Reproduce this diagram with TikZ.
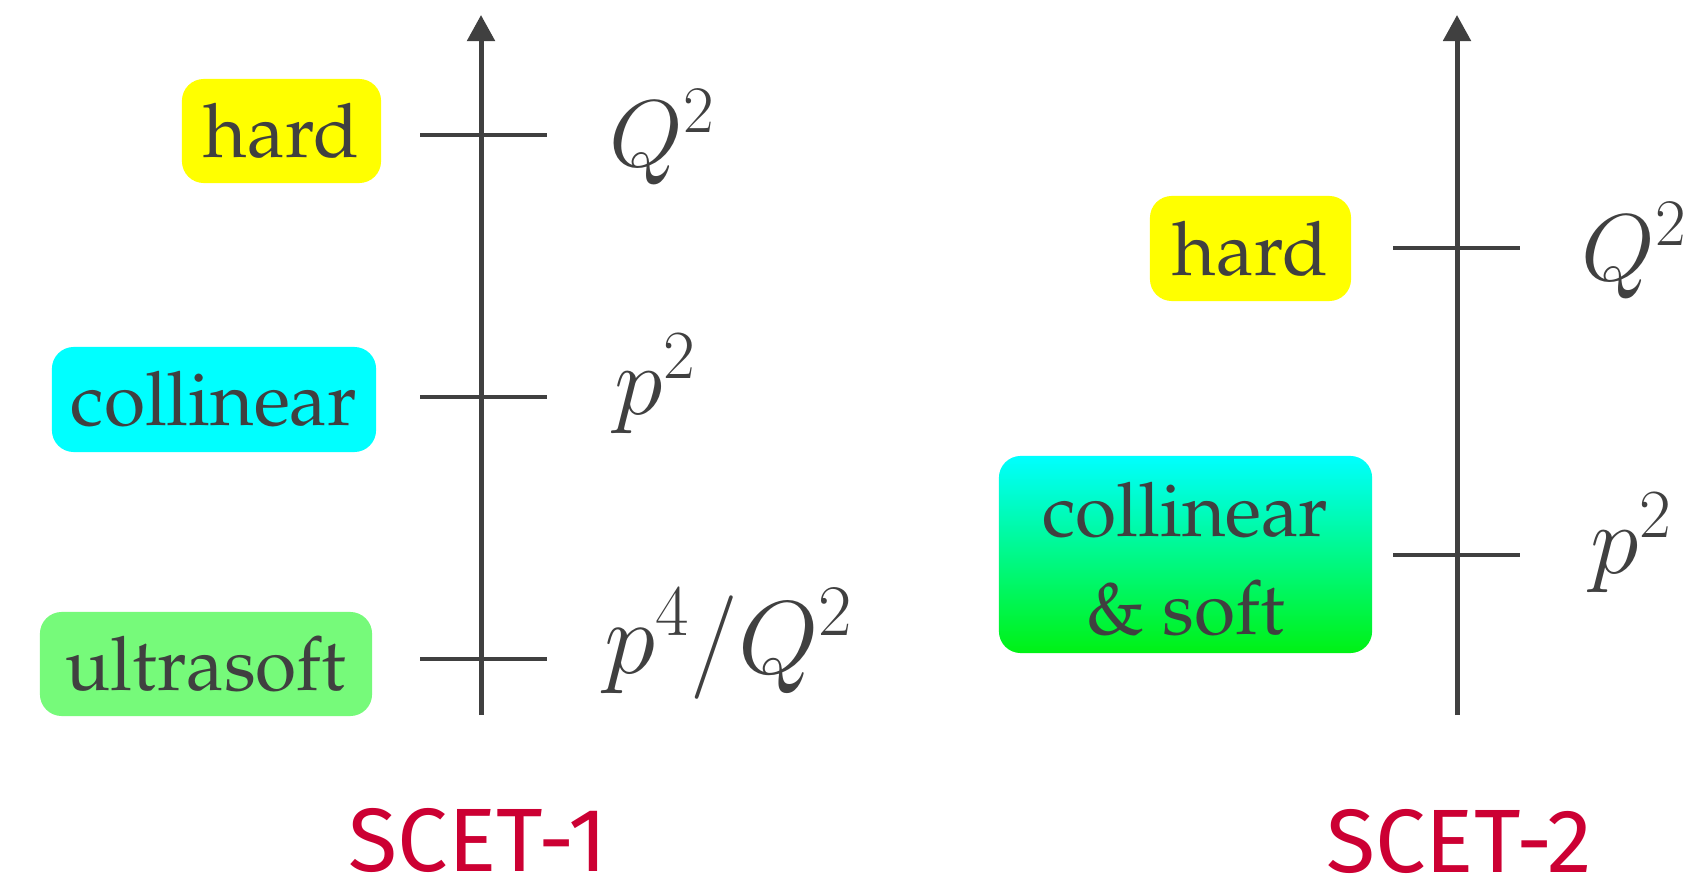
\RequirePackage{fix-cm}
\documentclass[tikz,border=0pt]{standalone}
\usepackage[T1]{fontenc}
\usepackage{fontspec}
\usepackage{tikz}
\usetikzlibrary{arrows.meta,positioning}
\usepackage{xcolor}
\definecolor{ink}{RGB}{64,64,64}
\definecolor{scetred}{RGB}{204,0,51}
\definecolor{hardyellow}{RGB}{255,255,0}
\definecolor{collcyan}{RGB}{0,255,255}
\definecolor{usoftgreen}{RGB}{118,250,122}
\definecolor{softgreen}{RGB}{0,242,20}
\newfontfamily\scetfont{Fira Sans}
\newcommand\palfont{\fontencoding{T1}\fontfamily{ppl}\selectfont}

\begin{document}
\begin{tikzpicture}[x=0.01cm,y=-0.01cm,
regime/.style={rounded corners=6.2pt,inner sep=0pt,text=ink,align=center,
font=\palfont\fontsize{21.3}{27.9}\selectfont},
scalelbl/.style={anchor=base west,inner sep=0pt,text=ink,
font=\fontsize{27}{32}\selectfont},
axisline/.style={draw=ink,line width=1.42pt,-{Triangle[length=7.4pt,width=7.7pt]}},
tickline/.style={draw=ink,line width=1.35pt},
modelname/.style={anchor=base,inner sep=0pt,text=scetred,
font=\scetfont\fontsize{25.6}{30}\selectfont}]
\useasboundingbox (0,0) rectangle (1691,879);
\draw[axisline] (481,715) -- (481,15);
\draw[tickline] (420,135) -- (547,135);
\draw[tickline] (420,397) -- (547,397);
\draw[tickline] (420,659) -- (547,659);
\node[regime,fill=hardyellow,minimum width=1.99cm,minimum height=1.04cm]
(hardL) at (281.5,131) {hard};
\node[regime,fill=collcyan,minimum width=3.24cm,minimum height=1.05cm]
(collL) at (214,399.5) {collinear};
\node[regime,fill=usoftgreen,minimum width=3.32cm,minimum height=1.04cm]
(usoftL) at (206,664) {ultrasoft};
\node[scalelbl] (hardscaleL) at (609,167) {$Q^2$};
\node[scalelbl,font=\fontsize{28}{32}\selectfont] (collscaleL) at (614,414) {$p^2$};
\node[scalelbl,font=\fontsize{29.5}{34}\selectfont] (usoftscaleL) at (604,673) {$p^4/Q^2$};
\node[modelname] (scetone) at (478,871) {SCET-1};
\draw[axisline] (1457,715) -- (1457,15);
\draw[tickline] (1393,248) -- (1520,248);
\draw[tickline] (1393,555) -- (1520,555);
\node[regime,fill=hardyellow,minimum width=2.01cm,minimum height=1.05cm]
(hardR) at (1250.5,248.5) {hard};
\node[regime,top color=collcyan,bottom color=softgreen,minimum width=3.73cm,
minimum height=1.97cm] (collsoftR) at (1185.5,554.5)
{collinear\rule{0pt}{17.9pt}\\\& soft};
\node[scalelbl] (hardscaleR) at (1581,280) {$Q^2$};
\node[scalelbl,font=\fontsize{28}{32}\selectfont] (collsoftscaleR) at (1590,573) {$p^2$};
\node[modelname] (scettwo) at (1459,872) {SCET-2};
\end{tikzpicture}
\end{document}
